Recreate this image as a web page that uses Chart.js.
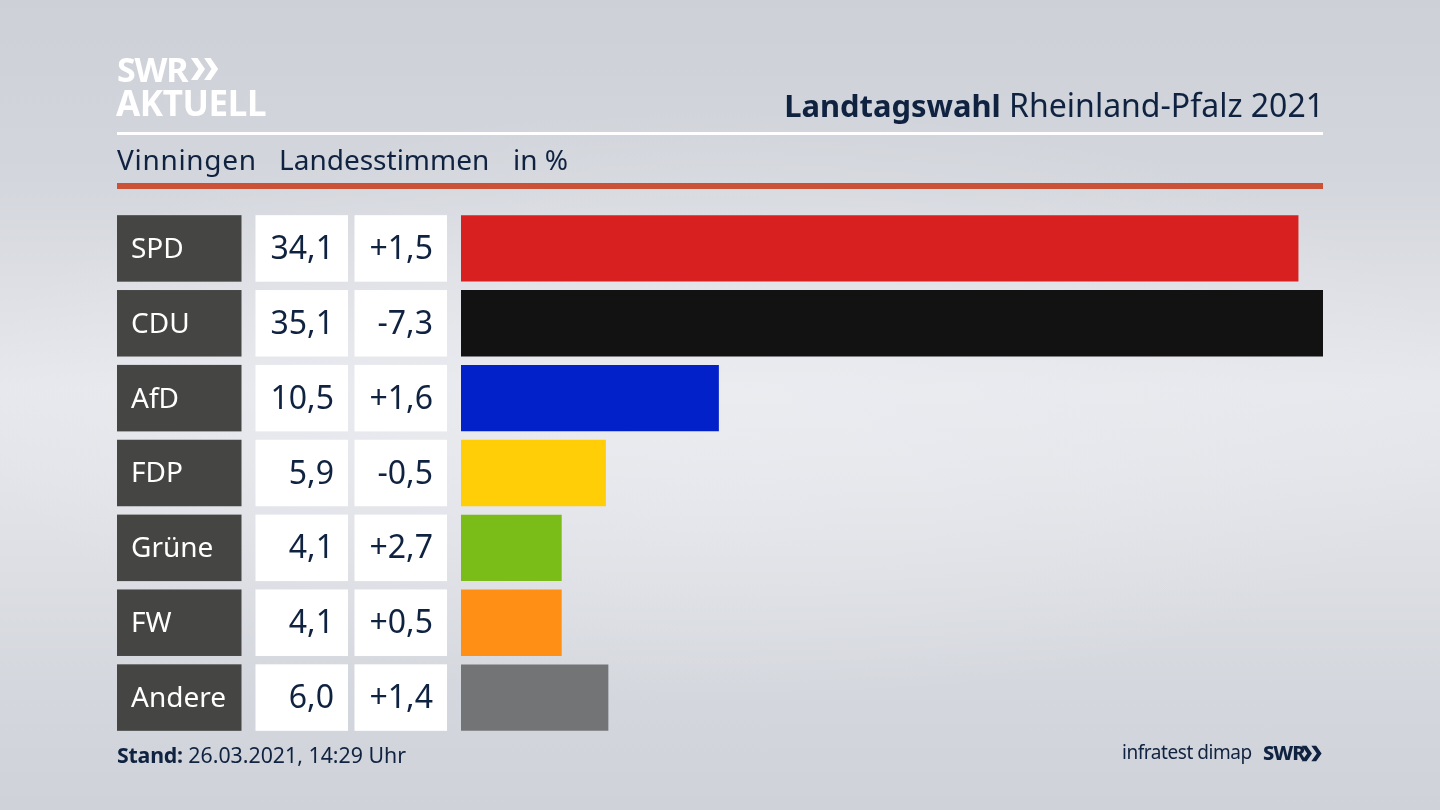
<!DOCTYPE html>
<html lang="de">
<head>
<meta charset="utf-8">
<title>Landtagswahl Rheinland-Pfalz 2021</title>
<script src="https://cdn.jsdelivr.net/npm/chart.js@4"></script>
<style>
html,body{margin:0;padding:0;width:1440px;height:810px;overflow:hidden}
body{position:relative;font-family:"Noto Sans",sans-serif;color:#0f2240;
  background:
    radial-gradient(ellipse 760px 300px at 50% 50%,rgba(238,239,243,.55),rgba(238,239,243,0) 100%),
    linear-gradient(180deg,#cdd0d7 0%,#d3d6dc 22%,#e7e8ed 48%,#e4e5ea 58%,#d4d7dd 85%,#cfd2d8 100%)}
#c{position:absolute;left:0;top:0;width:1440px;height:810px}
.t{position:absolute;white-space:nowrap;line-height:1}
.rule{position:absolute;left:117px;width:1206px}
</style>
</head>
<body>
<canvas id="c" width="1440" height="810"></canvas>

<div class="t" style="left:117px;top:52px;font-size:34px;font-weight:700;color:#fff;letter-spacing:-1.2px">SWR</div>
<svg style="position:absolute;left:190px;top:57px" width="30" height="24" viewBox="0 0 32 24" preserveAspectRatio="none"><path d="M1 1h7l8 11-8 11H1l8-11zM15 1h7l8 11-8 11h-7l8-11z" fill="#fff"/></svg>
<div class="t" style="left:116px;top:85px;font-size:35px;font-weight:700;color:#fff;letter-spacing:-.4px">AKTUELL</div>

<div class="t" style="right:116px;top:89px;font-size:32px"><b style="font-weight:700;font-size:30.9px">Landtagswahl</b> Rheinland-Pfalz 2021</div>
<div class="rule" style="top:132px;height:3px;background:#fff"></div>
<div class="t" style="left:117px;top:145px;font-size:28px;letter-spacing:.7px">Vinningen</div>
<div class="t" style="left:279px;top:145px;font-size:28px">Landesstimmen</div>
<div class="t" style="left:513px;top:145px;font-size:28px">in %</div>
<div class="rule" style="top:183px;height:6px;background:#cb5237"></div>

<div class="t" style="left:117px;top:744px;font-size:21.3px"><b style="font-weight:700;letter-spacing:-.2px">Stand:</b> 26.03.2021, 14:29 Uhr</div>
<div class="t" style="left:1122px;top:743px;font-size:19px;letter-spacing:-.45px">infratest dimap</div>
<div class="t" style="left:1263px;top:743px;font-size:20px;font-weight:800;letter-spacing:-1px">SWR</div>
<svg style="position:absolute;left:1301px;top:745px" width="22" height="17" viewBox="0 0 32 24" preserveAspectRatio="none"><path d="M1 1h7l8 11-8 11H1l8-11zM15 1h7l8 11-8 11h-7l8-11z" fill="#0f2240"/></svg>

<script>
const parties=['SPD','CDU','AfD','FDP','Grüne','FW','Andere'];
const shares=[34.1,35.1,10.5,5.9,4.1,4.1,6.0];
const shareLabels=['34,1','35,1','10,5','5,9','4,1','4,1','6,0'];
const changeLabels=['+1,5','-7,3','+1,6','-0,5','+2,7','+0,5','+1,4'];
const barColors=['#d7201f','#121212','#0221c8','#ffce06','#7abd18','#ff8f15','#737476'];

const BAR_H=66.5;
const tablePlugin={
  id:'table',
  beforeDraw(ch){
    const y=ch.scales.y,g=ch.ctx;
    parties.forEach((p,i)=>{
      const top=y.getPixelForValue(i)-BAR_H/2;
      g.fillStyle='#454543';g.fillRect(117,top,124.5,BAR_H);
      g.fillStyle='#fff';
      g.fillRect(255.5,top,92.5,BAR_H);
      g.fillRect(354.5,top,92.5,BAR_H);
    });
  },
  afterDraw(ch){
    const y=ch.scales.y,g=ch.ctx;
    g.save();
    g.textBaseline='middle';
    parties.forEach((p,i)=>{
      const cy=y.getPixelForValue(i)+1.5;
      g.font='28px "Noto Sans"';g.fillStyle='#fff';g.textAlign='left';
      g.fillText(p,131,cy);
      g.font='32px "Noto Sans"';g.fillStyle='#0f2240';g.textAlign='right';
      g.fillText(shareLabels[i],334,cy);
      g.fillText(changeLabels[i],433,cy);
    });
    g.restore();
  }
};

new Chart(document.getElementById('c'),{
  type:'bar',
  data:{labels:parties,datasets:[{data:shares,backgroundColor:barColors,barPercentage:BAR_H/75,categoryPercentage:1,borderWidth:0}]},
  options:{
    indexAxis:'y',responsive:false,animation:false,
    layout:{padding:{left:131,right:117,top:211,bottom:75}},
    plugins:{legend:{display:false},tooltip:{enabled:false},title:{display:false}},
    scales:{
      x:{min:0,max:35.1,display:false},
      y:{
        afterFit(s){s.width=330;},
        grid:{display:false},border:{display:false},
        ticks:{display:false}
      }
    }
  },
  plugins:[tablePlugin]
});
</script>
</body>
</html>
